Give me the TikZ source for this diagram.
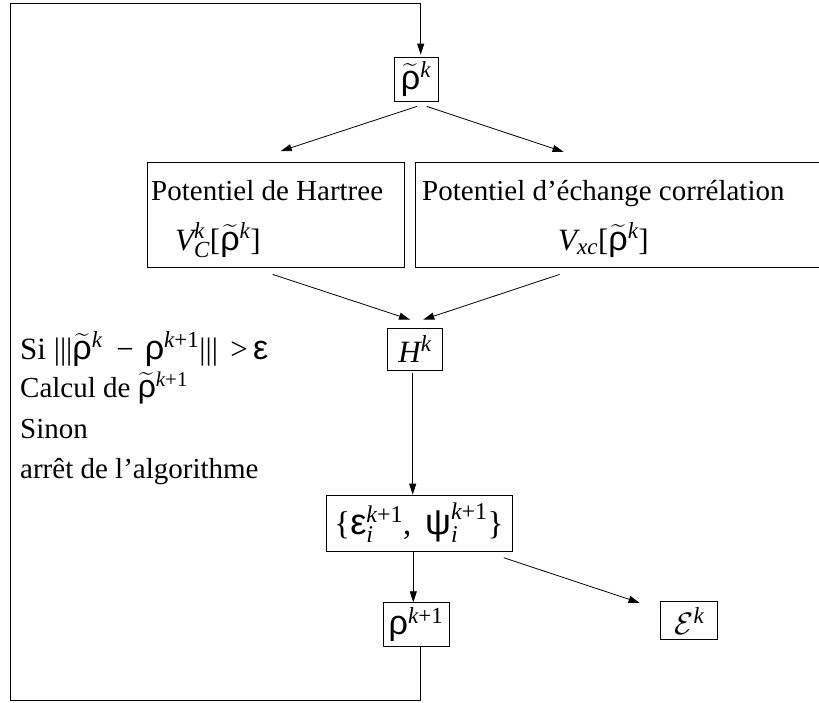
\RequirePackage{fix-cm}
\documentclass[tikz,border=0pt]{standalone}
\usepackage{amsmath}
\usepackage{fontspec}
\setmainfont{Liberation Serif}
\newfontfamily\grk[Scale=1.1]{Liberation Sans}
\usetikzlibrary{arrows.meta,calc}
\newcommand\vi[1]{\text{\itshape #1}}
\newcommand\gr[1]{\text{\grk #1}}
\newcommand\tx[1]{\text{\upshape #1}}
\newcommand\kp{\text{\itshape k\upshape +1}}
\newcommand\rtil{\smash[t]{\widetilde{\gr{ρ}}}\vphantom{\gr{ρ}}}
\DeclareMathSizes{29}{29}{21}{15}
\DeclareMathSizes{31}{31}{23}{16}
\DeclareMathSizes{33}{33}{24}{17}
\tikzset{
  box/.style={draw, line width=0.8pt, inner sep=0pt},
  arr/.style={line width=0.8pt, -{Triangle[length=11pt,width=7pt]}},
  txt/.style={anchor=base west, inner sep=0pt},
  every node/.style={font=\fontsize{29}{35}\selectfont},
  bigm/.style={font=\fontsize{31}{37}\selectfont}
}
\begin{document}
\begin{tikzpicture}[x=1pt,y=-1pt]
\useasboundingbox (0,0) rectangle (819,702);
\clip (0,0) rectangle (819,702);
% boxes
\node[box, bigm, minimum width=44, minimum height=44] (rt) at (416,79) {$\rtil^{\vi{k}}$};
\node[box, minimum width=257, minimum height=105] (hart) at (275.7,215) {};
\node[box, minimum width=415, minimum height=105] (xc) at (622.5,215) {};
\node[box, bigm, minimum width=55, minimum height=42] (H) at (415,349) {$\vi{H}^{\vi{k}}$};
\node[box, font=\fontsize{33}{39}\selectfont, minimum width=186, minimum height=56] (eps) at (419,523) {$\tx{\{}\gr{ε}_{\vi{i}}^{\kp}\tx{, }\,\gr{ψ}_{\vi{i}}^{\kp}\tx{\}}$};
\node[box, bigm, minimum width=66, minimum height=44] (rho) at (416,624.7) {$\gr{ρ}^{\kp}$};
\node[box, bigm, minimum width=57, minimum height=38] (E) at (689.3,620.8) {$\mathcal{E}^{\vi{k}}$};
% box texts
\node[txt] (h1) at (151,200) {Potentiel de Hartree};
\node[txt, bigm] (h2) at (175,250) {$\vi{V}_{\vi{C}}^{\vi{k}}\tx{[}\rtil^{\vi{k}}\tx{]}$};
\node[txt] (x1) at (422,200) {Potentiel d’échange corrélation};
\node[txt, bigm] (x2) at (558,250) {$\vi{V}_{\vi{xc}}\tx{[}\rtil^{\vi{k}}\tx{]}$};
% left text
\node[txt, font=\fontsize{31}{37}\selectfont] (l1) at (20,359) {Si $\tx{|||}\rtil^{\vi{k}}\hspace{0.45em}\tx{−}\hspace{0.35em}\gr{ρ}^{\kp}\tx{|||}\hspace{0.4em}\tx{>}\,\gr{ε}$};
\node[txt] (l2) at (20,397) {Calcul de $\rtil^{\kp}$};
\node[txt] (l3) at (20,438) {Sinon};
\node[txt] (l4) at (20,478) {arrêt de l’algorithme};
% connectors
\draw[arr] ($(rt.south)+(1,5)$) -- ($(hart.north)+(5,-11)$);
\draw[arr] ($(rt.south)+(10.7,5)$) -- ($(xc.north west)+(149,-10.2)$);
\draw[arr] ($(hart.south)+(-3,6.5)$) -- ($(H.north)+(-5,-8)$);
\draw[arr] ($(xc.south west)+(145,6.5)$) -- ($(H.north)+(8.3,-8)$);
\draw[arr] ($(H.south)+(-2.3,3)$) -- ($(eps.north)+(-6.3,0)$);
\draw[arr] ($(eps.south)+(-5.7,0)$) -- ($(rho.north)+(-2.7,0)$);
\draw[arr] ($(eps.south east)+(-8.7,6.3)$) -- ($(E.west)+(-20.8,-18)$);
\coordinate (bl) at (10.5,700.5);
\coordinate (tl) at (10.5,3.5);
\draw[arr] ($(rho.south)+(4.7,0)$) |- (bl) -- (tl) -| ($(rt.north)+(4.7,-2)$);
\end{tikzpicture}
\end{document}
